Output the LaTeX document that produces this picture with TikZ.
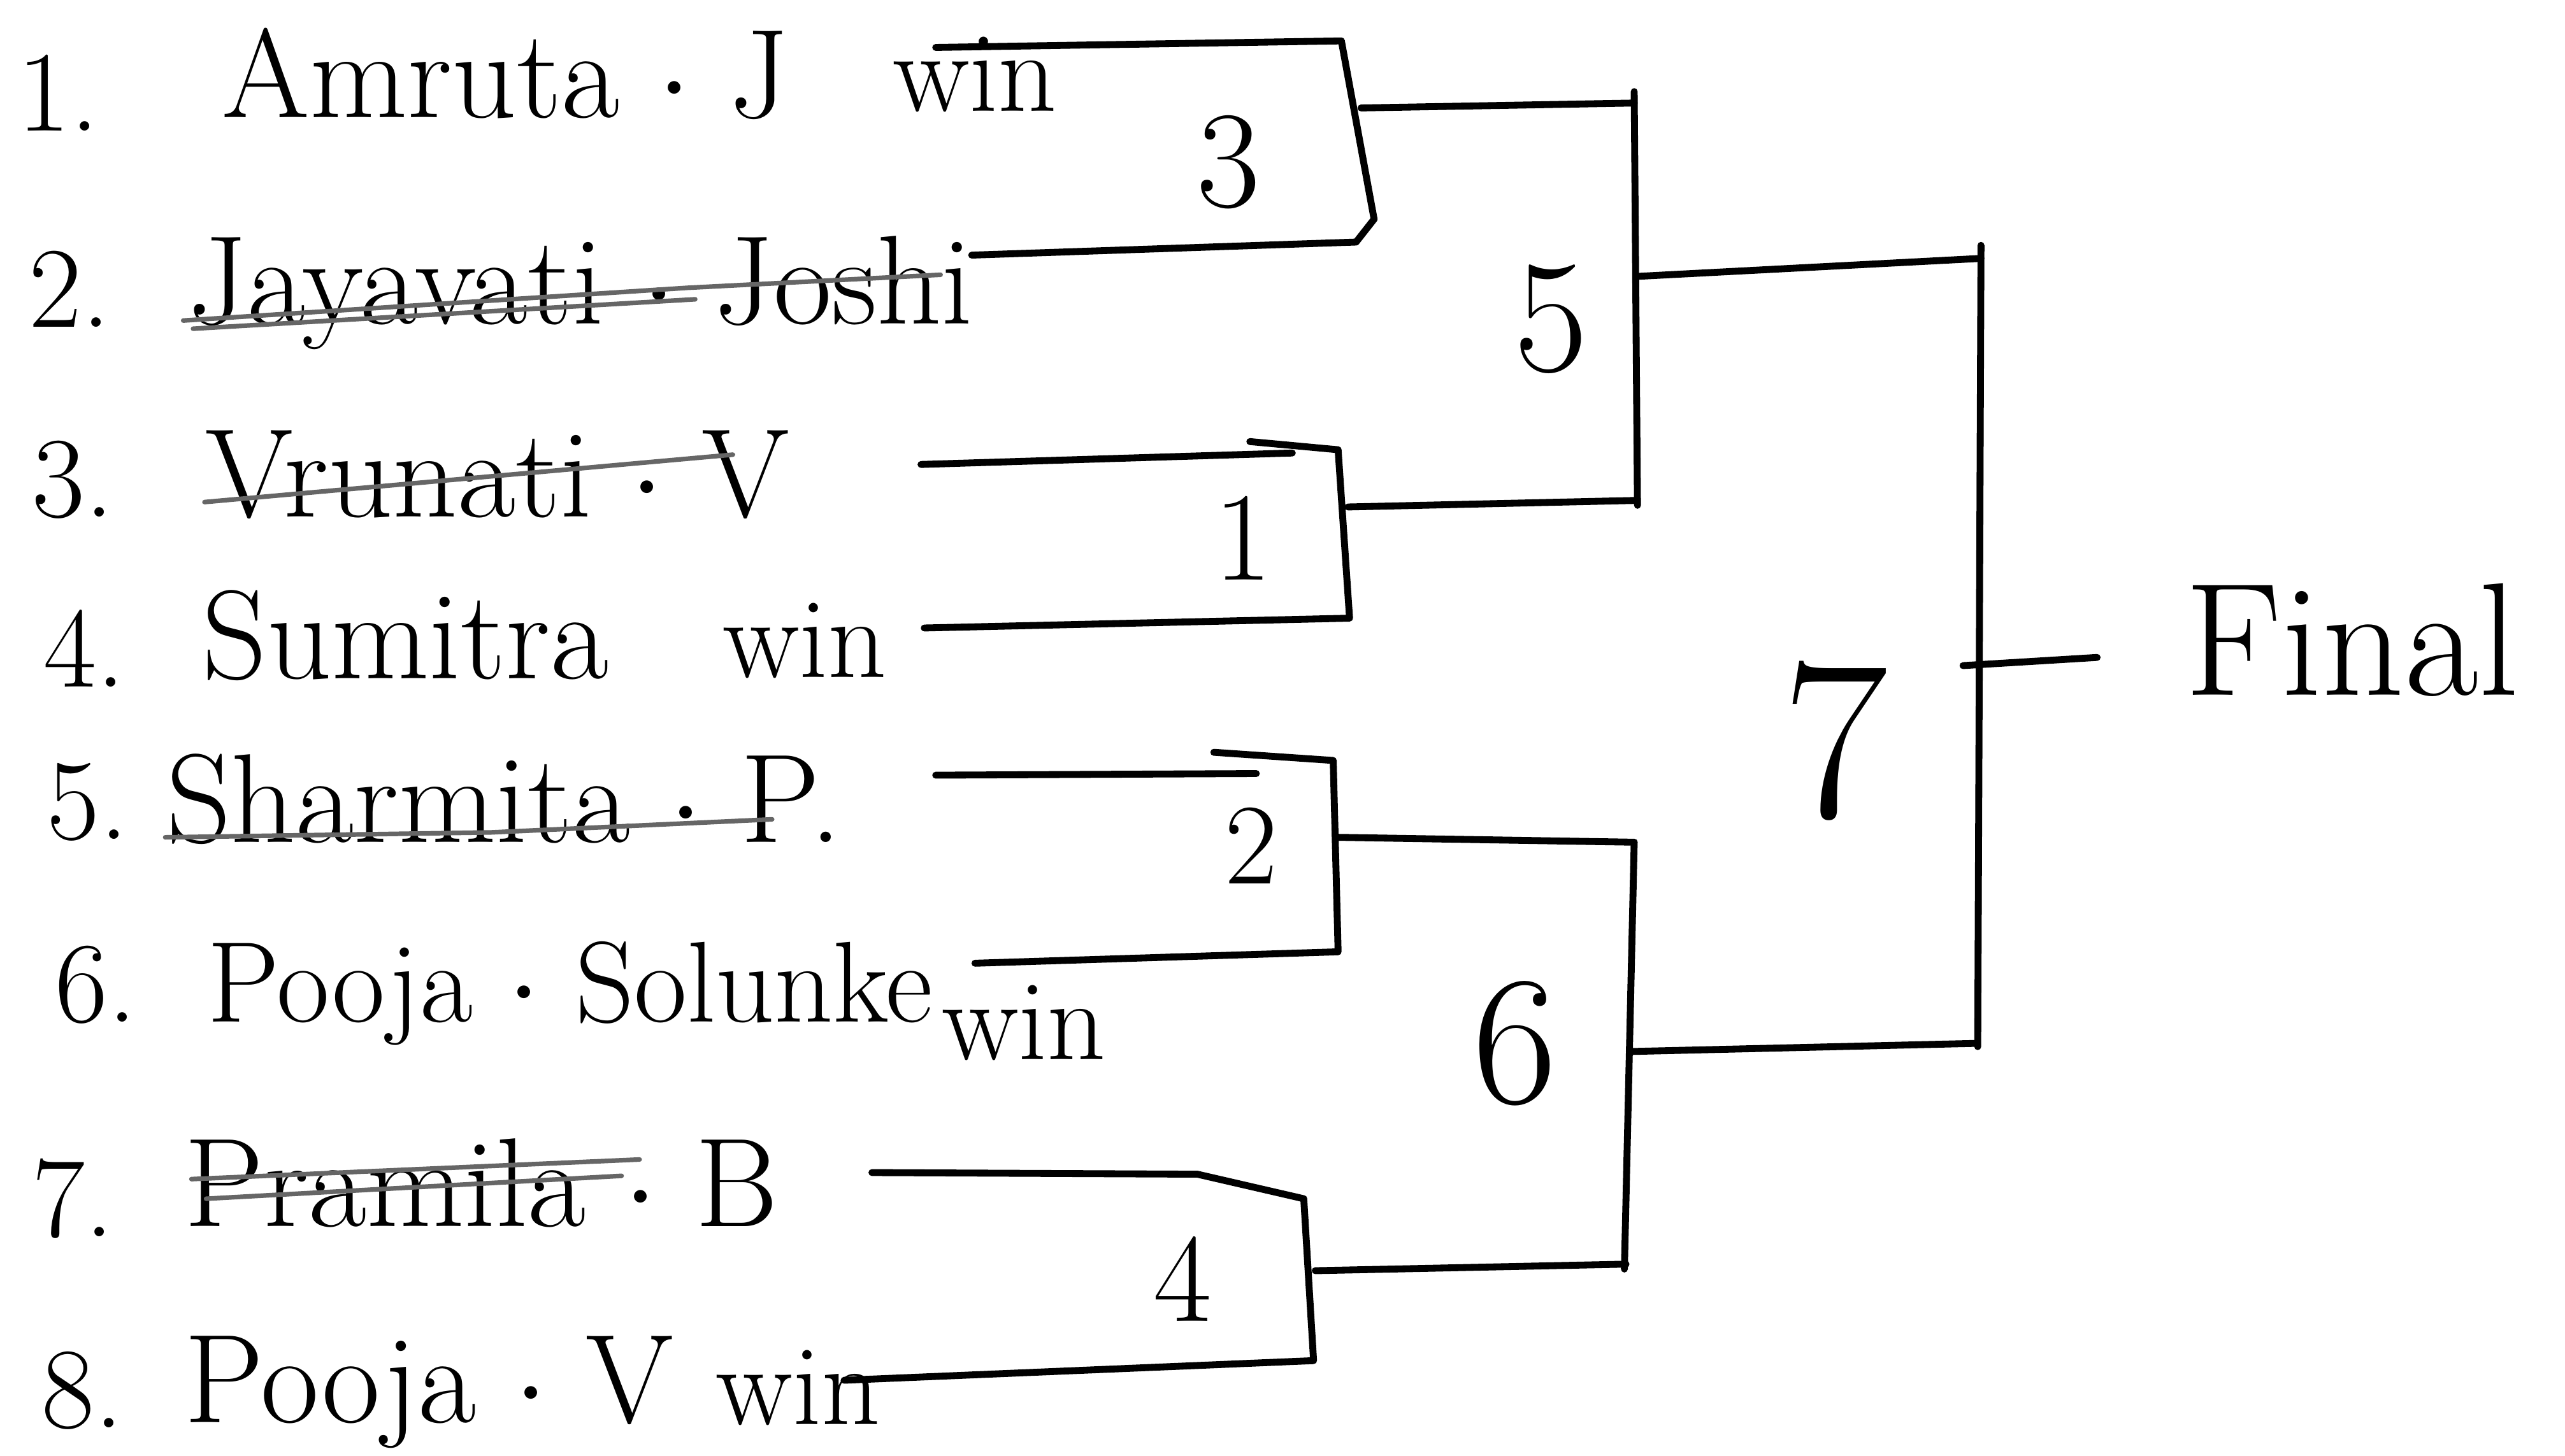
\documentclass[tikz,border=0pt]{standalone}
\begin{document}
\begin{tikzpicture}[x=0.01cm,y=-0.01cm, line cap=round, line join=round,
  bline/.style={line width=1.2pt, black},
  strikel/.style={line width=0.8pt, black!60},
  pname/.style={anchor=base west, inner sep=0pt, font=\fontsize{22}{26}\selectfont},
  pidx/.style={anchor=base west, inner sep=0pt, font=\fontsize{20}{24}\selectfont},
  pwin/.style={anchor=base west, inner sep=0pt, font=\fontsize{20}{24}\selectfont},
  rnd/.style={inner sep=0pt, font=\fontsize{#1}{#1}\selectfont}]
\useasboundingbox (0,0) rectangle (1568,890);

% ---------- player list ----------
\node[pidx]  (i1) at (10,80)  {1.};
\node[pname] (t1) at (135,72) {Amruta $\cdot$ J};
\node[pwin]  (w1) at (545,68) {win};

\node[pidx]  (i2) at (17,200) {2.};
\node[pname] (t2) at (114,198) {Jayavati $\cdot$ Joshi};

\node[pidx]  (i3) at (19,316) {3.};
\node[pname] (t3) at (125,316) {Vrunati $\cdot$ V};

\node[pidx]  (i4) at (26,420) {4.};
\node[pname] (t4) at (123,415) {Sumitra};
\node[pwin]  (w4) at (441,414) {win};

\node[pidx]  (i5) at (28,513) {5.};
\node[pname] (t5) at (101,515) {Sharmita $\cdot$ P.};

\node[pidx]  (i6) at (33,625) {6.};
\node[pname, font=\fontsize{20}{24}\selectfont] (t6) at (126,625) {Pooja $\cdot$ Solunke};
\node[pwin]  (w6) at (575,648) {win};

\node[pidx]  (i7) at (19,756) {7.};
\node[pname] (t7) at (112,750) {Pramila $\cdot$ B};

\node[pidx]  (i8) at (25,873) {8.};
\node[pname] (t8) at (112,870) {Pooja $\cdot$ V};
\node[pwin]  (w8) at (437,871) {win};

% ---------- strike-throughs ----------
\draw[strikel] (112,196) -- (420,176) -- (575,168);
\draw[strikel] (118,201) -- (425,183);
\draw[strikel] (125,307) -- (448,278);
\draw[strikel] (101,512) -- (300,509) -- (472,501);
\draw[strikel] (117,721) -- (391,709);
\draw[strikel] (126,733) -- (380,719);

% ---------- bracket coordinates ----------
\coordinate (p1) at (572,29);  \coordinate (a1) at (820,25);
\coordinate (a1m) at (840,134); \coordinate (a1b) at (829,148);
\coordinate (p2) at (594,156);
\coordinate (p3) at (563,284); \coordinate (a2t) at (818,275);
\coordinate (a2b) at (825,378); \coordinate (p4) at (565,384);
\coordinate (p5) at (572,474); \coordinate (a3t) at (815,465);
\coordinate (a3b) at (818,582); \coordinate (p6) at (596,589);
\coordinate (p7) at (533,717); \coordinate (a4c) at (732,718);
\coordinate (a4t) at (797,733); \coordinate (a4b) at (803,832);
\coordinate (p8) at (516,844);

\coordinate (o1a) at (832,66);  \coordinate (o1b) at (999,63);
\coordinate (o2a) at (824,310); \coordinate (o2b) at (1000,306);
\coordinate (o3a) at (818,512); \coordinate (o3b) at (999,515);
\coordinate (o4a) at (804,777); \coordinate (o4b) at (994,773);

\coordinate (s1t) at (999,56);  \coordinate (s1b) at (1001,309);
\coordinate (s2t) at (999,515); \coordinate (s2b) at (993,776);
\coordinate (s1a) at (1001,169); \coordinate (s1o) at (1211,158);
\coordinate (s2a) at (996,643);  \coordinate (s2o) at (1208,638);

\coordinate (ft) at (1211,150); \coordinate (fb) at (1209,640);
\coordinate (fa) at (1200,407); \coordinate (fo) at (1282,402);

% ---------- first round ----------
\draw[bline] (p1) -- (a1) -- (a1m) -- (a1b) -- (p2);
\draw[bline] (p3) -- (790,277);
\draw[bline] (764,270) -- (a2t) -- (a2b) -- (p4);
\draw[bline] (p5) -- (768,473);
\draw[bline] (742,460) -- (a3t) -- (a3b) -- (p6);
\draw[bline] (p7) -- (a4c) -- (a4t) -- (a4b) -- (p8);

\draw[bline] (o1a) -- (o1b);
\draw[bline] (o2a) -- (o2b);
\draw[bline] (o3a) -- (o3b);
\draw[bline] (o4a) -- (o4b);

% ---------- semifinals ----------
\draw[bline] (s1t) -- (s1b);
\draw[bline] (s2t) -- (s2b);
\draw[bline] (s1a) -- (s1o);
\draw[bline] (s2a) -- (s2o);

% ---------- final ----------
\draw[bline] (ft) -- (fb);
\draw[bline] (fa) -- (fo);

% ---------- match numbers ----------
\node[rnd=24] (m3) at (751,99)  {3};
\node[rnd=28] (m5) at (948,195) {5};
\node[rnd=22] (m1) at (760,329) {1};
\node[rnd=20] (m2) at (765,517) {2};
\node[rnd=32] (m6) at (926,638) {6};
\node[rnd=22] (m4) at (723,782) {4};
\node[rnd=40] (m7) at (1122,453) {7};

\node[anchor=base west, inner sep=0pt, font=\fontsize{28}{32}\selectfont] (fin) at (1335,425) {Final};
\end{tikzpicture}
\end{document}
